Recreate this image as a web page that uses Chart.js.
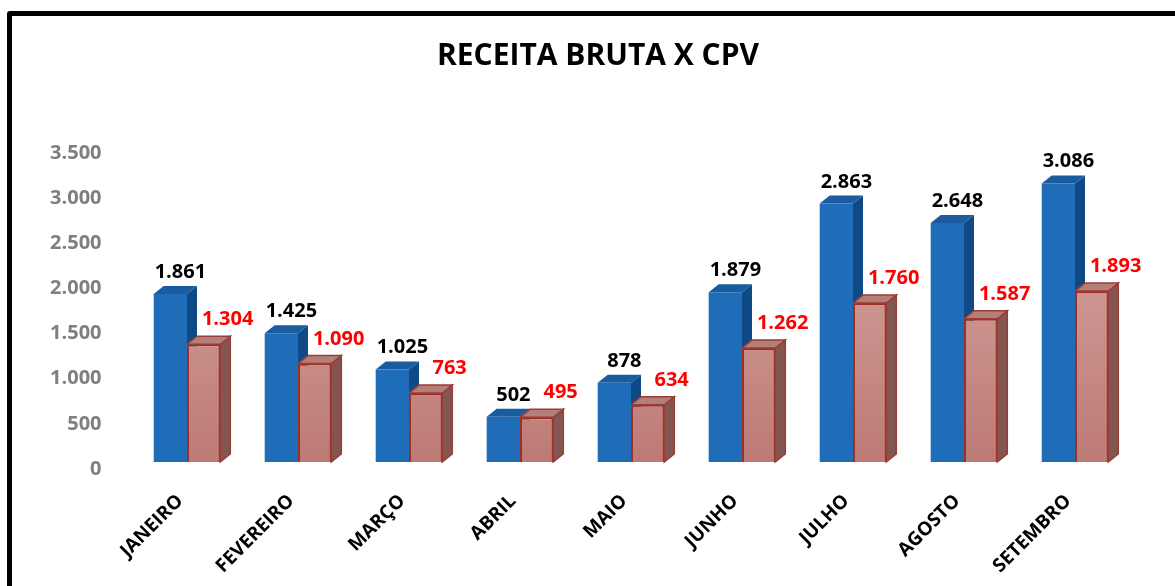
<!DOCTYPE html>
<html lang="pt-BR">
<head>
<meta charset="utf-8">
<title>Receita Bruta x CPV</title>
<script src="https://cdn.jsdelivr.net/npm/chart.js@4/dist/chart.umd.min.js"></script>
<style>
  html, body { margin: 0; padding: 0; background: #fff; overflow: hidden; }
  #moldura {
    position: absolute; left: 7px; top: 11px;
    width: 1200px; height: 600px;
    border: 5px solid #000; border-radius: 3px;
  }
  #grafico { position: absolute; left: 0; top: 0; }
</style>
</head>
<body>
<div id="moldura"></div>
<canvas id="grafico" width="1175" height="586"></canvas>
<script>
const meses = ["JANEIRO", "FEVEREIRO", "MARÇO", "ABRIL", "MAIO", "JUNHO", "JULHO", "AGOSTO", "SETEMBRO"];
const receitaBruta = [1861, 1425, 1025, 502, 878, 1879, 2863, 2648, 3086];
const cpv = [1304, 1090, 763, 495, 634, 1262, 1760, 1587, 1893];
const yMax = 3500;
const yStep = 500;

const FONTE = "'Open Sans', 'DejaVu Sans', sans-serif";
const PROF_X = 10; // fake 3d depth
const PROF_Y = 8;

// pt-BR thousands separator
const fmt = (n) => String(n).replace(/\B(?=(\d{3})+(?!\d))/g, ".");

function desenhaFaces(chart, idx) {
  const ds = chart.data.datasets[idx];
  const ctx = chart.ctx;
  ctx.save();
  chart.getDatasetMeta(idx).data.forEach((el) => {
    const l = el.x - el.width / 2, r = el.x + el.width / 2;
    const t = el.y, b = el.base;
    // side
    ctx.beginPath();
    ctx.moveTo(r, t);
    ctx.lineTo(r + PROF_X, t - PROF_Y);
    ctx.lineTo(r + PROF_X, b - PROF_Y);
    ctx.lineTo(r, b);
    ctx.closePath();
    ctx.fillStyle = ds.corLado;
    ctx.fill();
    if (ds.corContorno) { ctx.strokeStyle = ds.corContorno; ctx.lineWidth = 1.5; ctx.stroke(); }
    // top
    ctx.beginPath();
    ctx.moveTo(l, t);
    ctx.lineTo(l + PROF_X, t - PROF_Y);
    ctx.lineTo(r + PROF_X, t - PROF_Y);
    ctx.lineTo(r, t);
    ctx.closePath();
    ctx.fillStyle = ds.corTopo;
    ctx.fill();
    if (ds.corContorno) { ctx.strokeStyle = ds.corContorno; ctx.lineWidth = 1.5; ctx.stroke(); }
  });
  ctx.restore();
}

// chart.js paints the last dataset first, so the blue faces go down before anything
const barras3d = {
  id: "barras3d",
  beforeDatasetsDraw(chart) {
    desenhaFaces(chart, 0);
  },
  afterDatasetDraw(chart, args) {
    if (args.index !== 0) desenhaFaces(chart, args.index);
  },
  afterDatasetsDraw(chart) {
    const ctx = chart.ctx;
    ctx.save();
    ctx.font = "bold 20px " + FONTE;
    ctx.textAlign = "center";
    ctx.textBaseline = "alphabetic";
    chart.data.datasets.forEach((ds, i) => {
      chart.getDatasetMeta(i).data.forEach((el, j) => {
        ctx.fillStyle = ds.corRotulo;
        ctx.fillText(fmt(ds.data[j]), el.x + ds.rotuloDx, el.y - PROF_Y - ds.rotuloDy);
      });
    });
    ctx.restore();
  }
};

const gradienteCpv = (c) => {
  const area = c.chart.chartArea;
  if (!area) return "#c98f8a";
  const g = c.chart.ctx.createLinearGradient(0, area.top, 0, area.bottom);
  g.addColorStop(0, "#dcaea9");
  g.addColorStop(1, "#bd7a75");
  return g;
};

new Chart(document.getElementById("grafico"), {
  type: "bar",
  data: {
    labels: meses,
    datasets: [
      {
        label: "RECEITA BRUTA",
        data: receitaBruta,
        backgroundColor: "#1f6cb8",
        borderWidth: 0,
        corLado: "#0f4a86",
        corTopo: "#1a5c9f",
        corRotulo: "#000000",
        rotuloDx: 10,
        rotuloDy: 8
      },
      {
        label: "CPV",
        data: cpv,
        backgroundColor: gradienteCpv,
        borderColor: "#9e2f27",
        borderWidth: 2,
        corLado: "#845652",
        corTopo: "#b57f79",
        corContorno: "#9a3d35",
        corRotulo: "#ff0000",
        rotuloDx: 24,
        rotuloDy: 11
      }
    ]
  },
  options: {
    responsive: false,
    devicePixelRatio: 1,
    animation: false,
    layout: { padding: { left: 40.5, right: 19.5, top: 0, bottom: 0 } },
    categoryPercentage: 0.6,
    barPercentage: 1.0,
    plugins: {
      legend: { display: false },
      tooltip: { enabled: false },
      title: {
        display: true,
        text: "RECEITA BRUTA X CPV",
        color: "#000000",
        font: { family: FONTE, size: 30, weight: "bold" },
        padding: { top: 38, bottom: 72 }
      }
    },
    scales: {
      x: {
        grid: { display: false, drawTicks: false },
        border: { display: false },
        ticks: {
          color: "#000000",
          font: { family: FONTE, size: 19, weight: "bold" },
          minRotation: 45,
          maxRotation: 45,
          padding: 28,
          labelOffset: -7,
          autoSkip: false
        },
        afterFit(scale) { scale.height = 124; }
      },
      y: {
        min: 0,
        max: yMax,
        grid: { display: false, drawTicks: false },
        border: { display: false },
        ticks: {
          stepSize: yStep,
          color: "#7f7f7f",
          font: { family: FONTE, size: 20, weight: "bold" },
          padding: 30,
          labelOffset: 7,
          callback: (v) => fmt(v)
        },
        afterFit(scale) { scale.width = 91; }
      },
      // empty spacer on the right so the title stays centred on the frame
      yDir: {
        position: "right",
        grid: { display: false, drawTicks: false },
        border: { display: false },
        ticks: { display: false },
        afterFit(scale) { scale.width = 25; }
      }
    }
  },
  plugins: [barras3d]
});
</script>
</body>
</html>
